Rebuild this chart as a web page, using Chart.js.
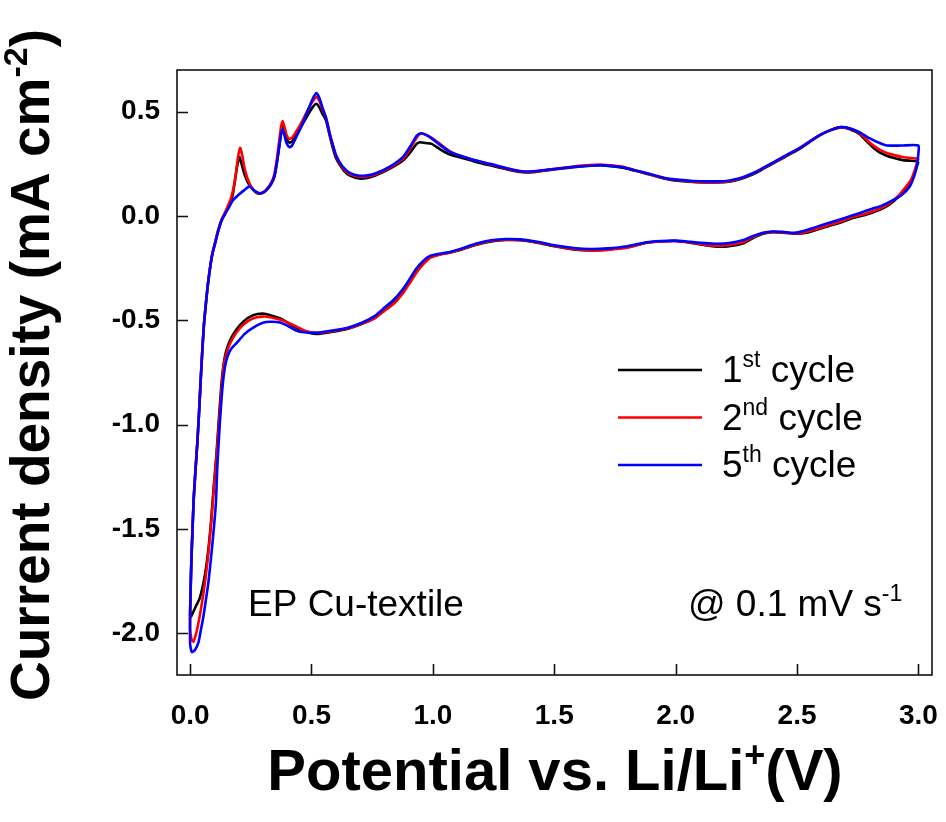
<!DOCTYPE html>
<html>
<head>
<meta charset="utf-8">
<title>CV - EP Cu-textile</title>
<script src="https://cdn.jsdelivr.net/npm/chart.js@4.4.1/dist/chart.umd.min.js"></script>
<style>
  html, body { margin: 0; padding: 0; background: #fff; }
</style>
</head>
<body>
<canvas id="cv" width="946" height="822"></canvas>
<script>
/* cyclic voltammograms, 1st / 2nd / 5th cycle, [potential V, current mA cm-2] */

// 1st cycle: cathodic sweep 3.0 -> 0 V, then anodic 0 -> 3.0 V
const C1_CATHODIC = [
  [3.00,0.26],[2.985,0.21],[2.97,0.17],[2.945,0.13],[2.92,0.095],[2.88,0.055],[2.84,0.03],[2.78,0.005],
  [2.73,-0.01],[2.67,-0.035],[2.60,-0.058],[2.54,-0.08],[2.49,-0.085],[2.44,-0.08],[2.40,-0.077],
  [2.36,-0.085],[2.32,-0.105],[2.28,-0.13],[2.22,-0.145],[2.17,-0.147],[2.12,-0.14],[2.06,-0.128],
  [2.00,-0.12],[1.94,-0.122],[1.88,-0.128],[1.80,-0.15],[1.72,-0.16],[1.65,-0.165],[1.58,-0.16],
  [1.50,-0.145],[1.43,-0.128],[1.36,-0.116],[1.30,-0.115],[1.24,-0.122],[1.18,-0.138],[1.12,-0.16],
  [1.07,-0.175],[1.02,-0.185],[0.99,-0.196],[0.96,-0.225],[0.93,-0.265],[0.90,-0.32],[0.88,-0.356],
  [0.84,-0.41],[0.80,-0.45],[0.76,-0.49],[0.71,-0.515],[0.65,-0.54],[0.58,-0.556],[0.52,-0.565],
  [0.47,-0.552],[0.42,-0.525],[0.38,-0.495],[0.33,-0.475],[0.30,-0.468],[0.26,-0.475],[0.22,-0.505],
  [0.19,-0.545],[0.165,-0.595],[0.148,-0.65],[0.137,-0.72],[0.128,-0.82],[0.118,-0.98],[0.108,-1.15],
  [0.097,-1.3],[0.085,-1.48],[0.072,-1.63],[0.058,-1.74],[0.04,-1.83],[0.02,-1.88],[0.004,-1.92]
];
const C1_ANODIC = [
  [0.0,-1.92],[0.002,-1.8],[0.005,-1.66],[0.01,-1.5],[0.015,-1.35],[0.022,-1.22],[0.029,-1.1],
  [0.036,-0.96],[0.043,-0.8],[0.05,-0.65],[0.057,-0.52],[0.065,-0.42],[0.072,-0.34],[0.082,-0.25],
  [0.092,-0.18],[0.103,-0.13],[0.116,-0.07],[0.13,-0.02],[0.145,0.015],[0.158,0.045],[0.168,0.07],
  [0.176,0.105],[0.185,0.17],[0.193,0.234],[0.203,0.282],[0.212,0.25],[0.223,0.203],[0.236,0.165],
  [0.251,0.139],[0.268,0.115],[0.285,0.107],[0.303,0.113],[0.32,0.131],[0.335,0.155],[0.347,0.187],
  [0.357,0.25],[0.367,0.33],[0.375,0.4],[0.381,0.434],[0.388,0.41],[0.397,0.37],[0.408,0.352],
  [0.42,0.357],[0.44,0.395],[0.464,0.442],[0.49,0.495],[0.505,0.522],[0.519,0.538],[0.532,0.522],
  [0.545,0.49],[0.56,0.458],[0.574,0.39],[0.587,0.33],[0.60,0.28],[0.614,0.25],[0.635,0.215],
  [0.656,0.195],[0.697,0.18],[0.73,0.183],[0.765,0.195],[0.823,0.227],[0.878,0.267],[0.91,0.31],
  [0.933,0.346],[0.947,0.354],[0.97,0.35],[0.995,0.346],[1.03,0.32],[1.07,0.295],[1.11,0.282],
  [1.17,0.262],[1.235,0.243],[1.30,0.225],[1.358,0.211],[1.41,0.21],[1.468,0.219],[1.564,0.232],
  [1.63,0.24],[1.70,0.243],[1.783,0.232],[1.83,0.218],[1.879,0.203],[1.93,0.187],[1.975,0.174],
  [2.071,0.163],[2.14,0.161],[2.209,0.163],[2.25,0.172],[2.291,0.187],[2.34,0.212],[2.387,0.243],
  [2.45,0.283],[2.51,0.322],[2.593,0.386],[2.64,0.412],[2.682,0.426],[2.72,0.415],[2.757,0.394],
  [2.785,0.36],[2.812,0.33],[2.84,0.305],[2.867,0.29],[2.90,0.278],[2.935,0.268],[2.97,0.265],[3.00,0.262]
];

// 2nd cycle
const C2_CATHODIC = [
  [3.00,0.275],[2.985,0.22],[2.97,0.175],[2.945,0.135],[2.92,0.1],[2.88,0.06],[2.84,0.035],[2.78,0.01],
  [2.73,-0.005],[2.67,-0.03],[2.60,-0.055],[2.54,-0.075],[2.49,-0.083],[2.44,-0.078],[2.40,-0.076],
  [2.36,-0.083],[2.32,-0.1],[2.28,-0.125],[2.22,-0.14],[2.17,-0.142],[2.12,-0.137],[2.06,-0.127],
  [2.00,-0.12],[1.94,-0.122],[1.88,-0.128],[1.80,-0.152],[1.72,-0.162],[1.65,-0.165],[1.58,-0.158],
  [1.50,-0.143],[1.43,-0.127],[1.36,-0.115],[1.30,-0.114],[1.24,-0.12],[1.18,-0.136],[1.12,-0.158],
  [1.07,-0.175],[1.02,-0.188],[0.99,-0.2],[0.96,-0.232],[0.93,-0.275],[0.90,-0.33],[0.88,-0.365],
  [0.84,-0.42],[0.80,-0.455],[0.76,-0.49],[0.71,-0.515],[0.65,-0.538],[0.58,-0.553],[0.52,-0.56],
  [0.47,-0.548],[0.42,-0.52],[0.38,-0.5],[0.33,-0.485],[0.30,-0.482],[0.26,-0.49],[0.22,-0.52],
  [0.19,-0.56],[0.165,-0.61],[0.148,-0.665],[0.138,-0.72],[0.13,-0.82],[0.12,-0.98],[0.109,-1.15],
  [0.098,-1.3],[0.087,-1.47],[0.075,-1.62],[0.062,-1.75],[0.048,-1.86],[0.036,-1.94],[0.025,-2.0],
  [0.014,-2.04],[0.006,-2.03]
];
const C2_ANODIC = [
  [0.0,-1.98],[0.001,-1.85],[0.004,-1.7],[0.009,-1.52],[0.015,-1.36],[0.022,-1.22],[0.029,-1.1],
  [0.036,-0.96],[0.043,-0.8],[0.05,-0.65],[0.057,-0.52],[0.065,-0.42],[0.072,-0.34],[0.082,-0.25],
  [0.092,-0.18],[0.103,-0.125],[0.116,-0.065],[0.13,-0.015],[0.145,0.02],[0.158,0.055],[0.168,0.085],
  [0.178,0.13],[0.188,0.2],[0.197,0.28],[0.206,0.327],[0.214,0.295],[0.225,0.225],[0.238,0.175],
  [0.251,0.142],[0.268,0.117],[0.285,0.108],[0.303,0.115],[0.32,0.135],[0.335,0.162],[0.347,0.2],
  [0.357,0.27],[0.367,0.36],[0.375,0.43],[0.381,0.455],[0.388,0.43],[0.397,0.39],[0.408,0.37],
  [0.42,0.375],[0.44,0.41],[0.464,0.46],[0.49,0.52],[0.505,0.55],[0.52,0.57],[0.533,0.55],
  [0.545,0.51],[0.56,0.47],[0.574,0.4],[0.587,0.34],[0.60,0.29],[0.614,0.258],[0.635,0.222],
  [0.656,0.202],[0.697,0.188],[0.73,0.19],[0.765,0.2],[0.823,0.232],[0.878,0.275],[0.91,0.33],
  [0.933,0.375],[0.95,0.395],[0.97,0.39],[0.995,0.375],[1.03,0.345],[1.07,0.31],[1.11,0.29],
  [1.17,0.268],[1.235,0.248],[1.30,0.228],[1.358,0.214],[1.41,0.212],[1.468,0.22],[1.564,0.235],
  [1.63,0.243],[1.70,0.246],[1.783,0.236],[1.83,0.22],[1.879,0.205],[1.93,0.188],[1.975,0.176],
  [2.071,0.165],[2.14,0.162],[2.209,0.165],[2.25,0.174],[2.291,0.19],[2.34,0.215],[2.387,0.246],
  [2.45,0.286],[2.51,0.325],[2.593,0.388],[2.64,0.413],[2.682,0.425],[2.72,0.418],[2.757,0.398],
  [2.785,0.368],[2.812,0.34],[2.84,0.318],[2.867,0.303],[2.90,0.292],[2.935,0.283],[2.97,0.278],[3.00,0.275]
];

// 5th cycle
const C5_CATHODIC = [
  [3.00,0.30],[2.995,0.25],[2.985,0.2],[2.963,0.139],[2.93,0.1],[2.893,0.075],[2.85,0.05],[2.81,0.035],
  [2.76,0.015],[2.70,-0.008],[2.64,-0.03],[2.58,-0.052],[2.53,-0.07],[2.49,-0.08],[2.44,-0.076],
  [2.40,-0.074],[2.36,-0.08],[2.32,-0.095],[2.28,-0.115],[2.22,-0.13],[2.17,-0.133],[2.12,-0.13],
  [2.06,-0.124],[2.00,-0.118],[1.94,-0.12],[1.88,-0.126],[1.80,-0.145],[1.72,-0.155],[1.65,-0.158],
  [1.58,-0.153],[1.50,-0.14],[1.43,-0.123],[1.36,-0.112],[1.30,-0.11],[1.24,-0.116],[1.18,-0.132],
  [1.12,-0.155],[1.07,-0.172],[1.02,-0.182],[0.99,-0.19],[0.96,-0.215],[0.93,-0.255],[0.90,-0.31],
  [0.88,-0.345],[0.84,-0.4],[0.80,-0.44],[0.76,-0.48],[0.71,-0.51],[0.65,-0.535],[0.58,-0.55],
  [0.52,-0.56],[0.47,-0.557],[0.44,-0.55],[0.40,-0.525],[0.37,-0.51],[0.33,-0.507],[0.30,-0.512],
  [0.26,-0.535],[0.225,-0.565],[0.192,-0.608],[0.17,-0.635],[0.155,-0.67],[0.144,-0.72],[0.135,-0.8],
  [0.128,-0.9],[0.122,-1.0],[0.117,-1.1],[0.112,-1.2],[0.106,-1.38],[0.096,-1.52],[0.086,-1.64],
  [0.075,-1.76],[0.065,-1.84],[0.055,-1.918],[0.045,-1.98],[0.034,-2.045],[0.02,-2.08],[0.007,-2.09]
];
const C5_ANODIC = [
  [0.0,-2.05],[0.0,-1.9],[0.002,-1.8],[0.005,-1.66],[0.01,-1.5],[0.015,-1.35],[0.022,-1.22],[0.029,-1.1],
  [0.036,-0.96],[0.043,-0.8],[0.05,-0.65],[0.057,-0.52],[0.065,-0.42],[0.072,-0.34],[0.082,-0.25],
  [0.092,-0.18],[0.103,-0.13],[0.116,-0.07],[0.13,-0.02],[0.145,0.012],[0.16,0.042],[0.176,0.075],
  [0.20,0.102],[0.222,0.123],[0.244,0.142],[0.262,0.125],[0.285,0.11],[0.303,0.115],[0.32,0.132],
  [0.335,0.158],[0.347,0.19],[0.357,0.255],[0.367,0.335],[0.375,0.395],[0.381,0.415],[0.388,0.39],
  [0.397,0.35],[0.41,0.33],[0.42,0.338],[0.44,0.385],[0.464,0.445],[0.49,0.52],[0.505,0.562],
  [0.52,0.589],[0.533,0.565],[0.545,0.52],[0.56,0.47],[0.574,0.4],[0.587,0.345],[0.60,0.295],
  [0.614,0.262],[0.635,0.228],[0.656,0.208],[0.697,0.193],[0.73,0.195],[0.765,0.205],[0.823,0.237],
  [0.878,0.285],[0.91,0.34],[0.933,0.385],[0.95,0.397],[0.97,0.39],[0.995,0.372],[1.03,0.34],
  [1.07,0.308],[1.11,0.29],[1.17,0.268],[1.235,0.25],[1.30,0.23],[1.358,0.216],[1.41,0.214],
  [1.468,0.222],[1.564,0.234],[1.63,0.24],[1.70,0.243],[1.783,0.234],[1.83,0.22],[1.879,0.206],
  [1.93,0.19],[1.975,0.178],[2.071,0.168],[2.14,0.166],[2.209,0.168],[2.25,0.177],[2.291,0.192],
  [2.34,0.217],[2.387,0.248],[2.45,0.288],[2.51,0.326],[2.593,0.388],[2.64,0.413],[2.682,0.426],
  [2.72,0.42],[2.757,0.402],[2.80,0.372],[2.84,0.35],[2.87,0.338],[2.93,0.338],[3.00,0.338],[3.00,0.30]
];

const X_TICKS = [0.0, 0.5, 1.0, 1.5, 2.0, 2.5, 3.0];
const Y_TICKS = [-2.0, -1.5, -1.0, -0.5, 0.0, 0.5];
const X_RANGE = [-0.054, 3.056];
const Y_RANGE = [-2.2, 0.7];

const SERIES_COLORS = ['#000000', '#ff0000', '#0000ff'];
const LEGEND_LABELS = [['1', 'st'], ['2', 'nd'], ['5', 'th']];

const FONT = "'Liberation Sans', Arial, Helvetica, sans-serif";

const toPoints = (a, b) => a.concat(b).map(p => ({x: p[0], y: p[1]}));

// text runs with superscripts: parts = [[text, isSup], ...]
function drawRich(ctx, parts, x, y, size, weight, align) {
  const fontFor = sup => `${weight} ${sup ? Math.round(size * 0.62) : size}px ${FONT}`;
  let total = 0;
  parts.forEach(p => { ctx.font = fontFor(p[1]); total += ctx.measureText(p[0]).width; });
  let cx = align === 'center' ? x - total / 2 : x;
  ctx.textAlign = 'left';
  ctx.textBaseline = 'alphabetic';
  parts.forEach(p => {
    ctx.font = fontFor(p[1]);
    ctx.fillText(p[0], cx, p[1] ? y - size * 0.4 : y);
    cx += ctx.measureText(p[0]).width;
  });
}

const decorations = {
  id: 'decorations',
  afterDraw(chart) {
    const ctx = chart.ctx, a = chart.chartArea;
    const sx = chart.scales.x, sy = chart.scales.y;
    ctx.save();
    ctx.strokeStyle = '#111';
    ctx.lineWidth = 1.6;
    ctx.strokeRect(a.left, a.top, a.right - a.left, a.bottom - a.top);

    // inward ticks
    ctx.beginPath();
    sx.ticks.forEach(t => {
      const px = Math.round(sx.getPixelForValue(t.value)) + 0.5;
      ctx.moveTo(px, a.bottom); ctx.lineTo(px, a.bottom - 11);
    });
    sy.ticks.forEach(t => {
      const py = Math.round(sy.getPixelForValue(t.value)) + 0.5;
      ctx.moveTo(a.left, py); ctx.lineTo(a.left + 11, py);
    });
    ctx.stroke();

    ctx.fillStyle = '#000';
    // axis titles
    drawRich(ctx, [['Potential vs. Li/Li', false], ['+', true], ['(V)', false]], 555, 790, 58, 'bold', 'center');
    ctx.save();
    ctx.translate(49, 365);
    ctx.rotate(-Math.PI / 2);
    drawRich(ctx, [['Current density (mA cm', false], ['-2', true], [')', false]], 0, 0, 55, 'bold', 'center');
    ctx.restore();

    // legend
    LEGEND_LABELS.forEach((lab, i) => {
      const ly = 370 + i * 47.5;
      ctx.strokeStyle = SERIES_COLORS[i];
      ctx.lineWidth = 2.5;
      ctx.beginPath(); ctx.moveTo(618, ly); ctx.lineTo(702, ly); ctx.stroke();
      drawRich(ctx, [[lab[0], false], [lab[1], true], [' cycle', false]], 722, ly + 12, 37, 'normal', 'left');
    });

    // annotations
    drawRich(ctx, [['EP Cu-textile', false]], 248, 616, 37, 'normal', 'left');
    drawRich(ctx, [['@ 0.1 mV s', false], ['-1', true]], 688, 616, 37, 'normal', 'left');
    ctx.restore();
  }
};

const datasets = [
  {label: '1st cycle', data: toPoints(C1_CATHODIC, C1_ANODIC), borderColor: SERIES_COLORS[0], order: 2},
  {label: '2nd cycle', data: toPoints(C2_CATHODIC, C2_ANODIC), borderColor: SERIES_COLORS[1], order: 1},
  {label: '5th cycle', data: toPoints(C5_CATHODIC, C5_ANODIC), borderColor: SERIES_COLORS[2], order: 0}
].map(d => Object.assign(d, {showLine: true, pointRadius: 0, borderWidth: 2.6, tension: 0.2, fill: false}));

const tickFont = {family: FONT, size: 28, weight: 'bold'};

new Chart(document.getElementById('cv'), {
  type: 'scatter',
  data: {datasets},
  options: {
    responsive: false,
    animation: false,
    devicePixelRatio: 1,
    layout: {padding: {top: 70, right: 14, bottom: 0, left: 0}},
    plugins: {legend: {display: false}, tooltip: {enabled: false}},
    scales: {
      x: {
        type: 'linear', min: X_RANGE[0], max: X_RANGE[1],
        grid: {display: false, drawTicks: false}, border: {display: false},
        afterBuildTicks: s => { s.ticks = X_TICKS.map(v => ({value: v})); },
        afterFit: s => { s.height = 147; s.paddingLeft = 0; s.paddingRight = 0; },
        ticks: {color: '#000', font: tickFont, padding: 24, maxRotation: 0, callback: v => v.toFixed(1)}
      },
      y: {
        type: 'linear', min: Y_RANGE[0], max: Y_RANGE[1],
        grid: {display: false, drawTicks: false}, border: {display: false},
        afterBuildTicks: s => { s.ticks = Y_TICKS.map(v => ({value: v})); },
        afterFit: s => { s.width = 177; s.paddingTop = 0; s.paddingBottom = 0; },
        ticks: {color: '#000', font: tickFont, padding: 17, callback: v => v.toFixed(1)}
      }
    }
  },
  plugins: [decorations]
});
</script>
</body>
</html>
